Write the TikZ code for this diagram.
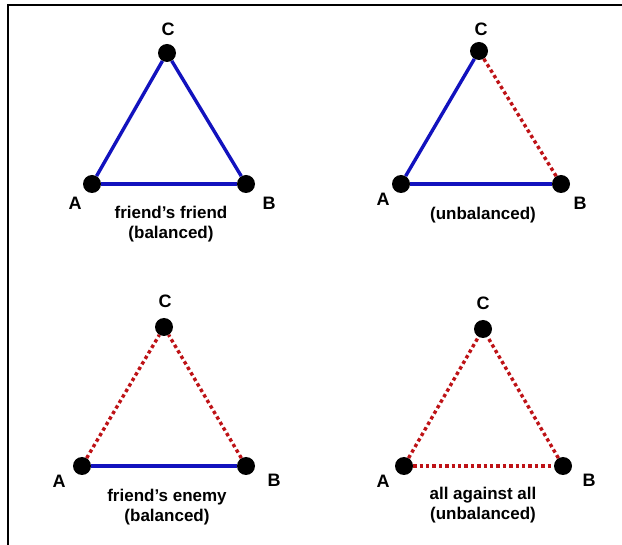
\documentclass[tikz,border=0pt]{standalone}
\usepackage{fontspec}
\setmainfont{Liberation Sans}
\begin{document}
\begin{tikzpicture}[x=1pt,y=-1pt,
  vtx/.style={circle,fill=black,minimum size=18pt,inner sep=0pt},
  lbl/.style={font=\fontsize{18}{18}\selectfont\bfseries,inner sep=0pt},
  captxt/.style={font=\fontsize{17}{19.5}\selectfont\bfseries,align=center,inner sep=0pt},
  friend/.style={draw=fblue,line width=3.4pt},
  enemy/.style={draw=ered,line width=3.4pt,dash pattern=on 3.4pt off 3pt}]
\definecolor{fblue}{RGB}{18,18,190}
\definecolor{ered}{RGB}{190,18,22}
\useasboundingbox (0,0) rectangle (622,545);
\fill[white] (0,0) rectangle (622,545);
\coordinate (bl) at (8,545);
\coordinate (tl) at (8,5);
\coordinate (tr) at (622,5);
\draw[line width=1.3pt] (bl) -- (tl) -- (tr);
% triangle 1
\node[vtx] (C1) at (167,53) {};
\node[vtx] (A1) at (92,184) {};
\node[vtx] (B1) at (246,184) {};
\draw[friend] (A1) -- (B1);
\draw[friend] (A1) -- (C1);
\draw[friend] (B1) -- (C1);
\node[lbl] (lC1) at (168,29) {C};
\node[lbl] (lA1) at (75,203) {A};
\node[lbl] (lB1) at (269,203) {B};
\node[captxt] (t1) at (171,224) {friend’s friend\\(balanced)};
% triangle 2
\node[vtx] (C2) at (479,51) {};
\node[vtx] (A2) at (401,184) {};
\node[vtx] (B2) at (561,184) {};
\draw[friend] (A2) -- (B2);
\draw[friend] (A2) -- (C2);
\draw[enemy] (B2) -- (C2);
\node[lbl] (lC2) at (481,29) {C};
\node[lbl] (lA2) at (383,199) {A};
\node[lbl] (lB2) at (580,203) {B};
\node[captxt] (t2) at (483,215) {(unbalanced)};
% triangle 3
\node[vtx] (C3) at (164,327) {};
\node[vtx] (A3) at (82,466) {};
\node[vtx] (B3) at (246,466) {};
\draw[friend] (A3) -- (B3);
\draw[enemy] (A3) -- (C3);
\draw[enemy] (B3) -- (C3);
\node[lbl] (lC3) at (165,301) {C};
\node[lbl] (lA3) at (59,481) {A};
\node[lbl] (lB3) at (274,480) {B};
\node[captxt] (t3) at (167,507) {friend’s enemy\\(balanced)};
% triangle 4
\node[vtx] (C4) at (483,329) {};
\node[vtx] (A4) at (404,466) {};
\node[vtx] (B4) at (563,466) {};
\draw[enemy] (A4) -- (B4);
\draw[enemy] (A4) -- (C4);
\draw[enemy] (B4) -- (C4);
\node[lbl] (lC4) at (483,303) {C};
\node[lbl] (lA4) at (383,481) {A};
\node[lbl] (lB4) at (589,480) {B};
\node[captxt] (t4) at (483,505) {all against all\\(unbalanced)};
\end{tikzpicture}
\end{document}
